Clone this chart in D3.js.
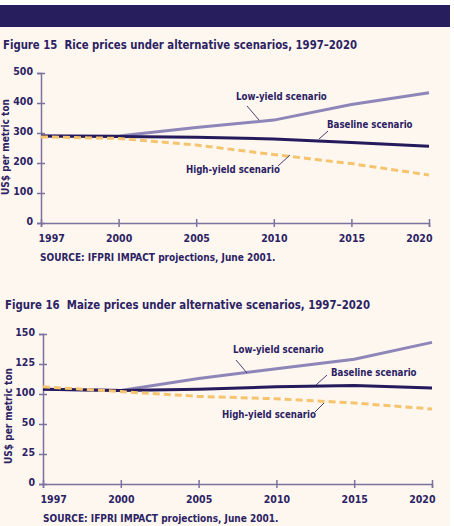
<!DOCTYPE html>
<html>
<head>
<meta charset="utf-8">
<script src="https://cdn.jsdelivr.net/npm/d3@7"></script>
<style>
  html, body { margin: 0; padding: 0; background: #ffffff; }
  svg { display: block; }
  text { font-family: "DejaVu Sans Condensed", "DejaVu Sans", sans-serif; font-weight: bold; fill: #2c2263; }
</style>
</head>
<body>
<svg width="454" height="526"></svg>
<script>
// shared categories
const years = ["1997", "2000", "2005", "2010", "2015", "2020"];
const seriesNames = ["Low-yield scenario", "Baseline scenario", "High-yield scenario"];

// Figure 15 - rice (US$ per metric ton)
const riceTicks = [0, 100, 200, 300, 400, 500];
const riceLow = [290, 290, 318, 343, 395, 434];
const riceBase = [290, 288, 286, 280, 268, 256];
const riceHigh = [287, 282, 260, 228, 198, 160];

// Figure 16 - maize (tick labels as printed: 75 is missing)
const maizeTicks = [0, 25, 50, 100, 125, 150];
const maizeLow = [104, 103, 113, 121, 129, 143];
const maizeBase = [104, 103, 104, 106, 107, 105];
const maizeHigh = [106, 102, 96, 92, 85, 75];

const colors = { low: "#8e86b8", base: "#241a5c", high: "#f6c46e" };

const svg = d3.select("svg");

svg.append("rect").attr("width", 450).attr("height", 526).attr("fill", "#fdf7f0");
svg.append("rect").attr("y", 0).attr("width", 454).attr("height", 5).attr("fill", "#ffffff");
svg.append("rect").attr("y", 5).attr("width", 450).attr("height", 22).attr("fill", "#271e5e");

function drawChart(cfg) {
    const g = svg.append("g");

    g.append("text")
        .attr("x", cfg.titleX).attr("y", cfg.titleY)
        .attr("textLength", cfg.titleW).attr("lengthAdjust", "spacingAndGlyphs")
        .style("font-size", "12.5px")
        .style("white-space", "pre")
        .text(cfg.title);

    const x = d3.scalePoint().domain(years).range(cfg.xRange);
    // polylinear so uneven tick labels sit on evenly spaced ticks
    const y = d3.scaleLinear()
        .domain(cfg.ticks)
        .range(cfg.ticks.map((d, i) => cfg.yRange[0] + (cfg.yRange[1] - cfg.yRange[0]) * i / (cfg.ticks.length - 1)));

    const axisColor = "#7b729f";

    // y axis
    const ya = g.append("g").attr("transform", `translate(${cfg.xRange[0]},0)`)
        .call(d3.axisLeft(y).tickValues(cfg.ticks).tickSize(4).tickPadding(4));
    ya.select(".domain").attr("stroke", axisColor).attr("stroke-width", 1.5);
    ya.selectAll(".tick line").attr("stroke", axisColor).attr("stroke-width", 1.5).attr("x2", 4).attr("x1", -4);
    ya.selectAll(".tick text").style("font-size", "10.5px").attr("fill", "#2c2263")
        .attr("dy", "0.1em");

    // x axis
    const xa = g.append("g").attr("transform", `translate(0,${cfg.yRange[0]})`)
        .call(d3.axisBottom(x).tickSizeOuter(0).tickSize(4).tickPadding(8));
    xa.select(".domain").attr("stroke", axisColor).attr("stroke-width", 1.5);
    xa.selectAll(".tick line").attr("stroke", axisColor).attr("stroke-width", 1.5).attr("y1", -4).attr("y2", 4);
    xa.selectAll(".tick text").style("font-size", "10.5px").attr("fill", "#2c2263")
        .attr("text-anchor", (d, i, n) => i === 0 ? "start" : (i === n.length - 1 ? "end" : "middle"))
        .attr("dx", (d, i, n) => i === 0 ? -3 : (i === n.length - 1 ? 3 : 0));

    g.append("text")
        .attr("transform", `translate(${cfg.yTitleX},${cfg.yTitleY}) rotate(-90)`)
        .attr("text-anchor", "middle")
        .style("font-size", "10px")
        .text("US$ per metric ton");

    const line = d3.line().x((d, i) => x(years[i])).y(d => y(d));

    g.append("path").datum(cfg.low).attr("d", line)
        .attr("fill", "none").attr("stroke", colors.low).attr("stroke-width", 3);
    g.append("path").datum(cfg.base).attr("d", line)
        .attr("fill", "none").attr("stroke", colors.base).attr("stroke-width", 3);
    g.append("path").datum(cfg.high).attr("d", line)
        .attr("fill", "none").attr("stroke", colors.high).attr("stroke-width", 3)
        .attr("stroke-dasharray", "7,4");

    // labels with leader lines
    cfg.labels.forEach((lb, i) => {
        g.append("text").attr("x", lb.x).attr("y", lb.y)
            .style("font-size", "9.6px").text(seriesNames[i]);
        g.append("line").attr("x1", lb.l[0]).attr("y1", lb.l[1]).attr("x2", lb.l[2]).attr("y2", lb.l[3])
            .attr("stroke", "#4a4172").attr("stroke-width", 1);
    });

    const src = g.append("text").attr("x", cfg.srcX).attr("y", cfg.srcY).style("font-size", "10px");
    src.append("tspan").style("font-weight", "900").text("SOURCE:");
    src.append("tspan").text(" IFPRI IMPACT projections, June 2001.");
}

drawChart({
    title: "Figure 15  Rice prices under alternative scenarios, 1997\u20132020",
    titleX: 3, titleY: 49, titleW: 354,
    ticks: riceTicks, xRange: [41, 429], yRange: [223, 73],
    low: riceLow, base: riceBase, high: riceHigh,
    yTitleX: 9, yTitleY: 147,
    labels: [
        { x: 236, y: 100, l: [247, 106, 259, 120] },
        { x: 327, y: 128, l: [328, 131, 319, 139] },
        { x: 186, y: 173, l: [278, 166, 290, 155] }
    ],
    srcX: 40, srcY: 261
});

drawChart({
    title: "Figure 16  Maize prices under alternative scenarios, 1997\u20132020",
    titleX: 5, titleY: 309, titleW: 365,
    ticks: maizeTicks, xRange: [43, 432], yRange: [484, 334],
    low: maizeLow, base: maizeBase, high: maizeHigh,
    yTitleX: 12, yTitleY: 416,
    labels: [
        { x: 233, y: 353, l: [236, 360, 247, 373] },
        { x: 331, y: 376, l: [327, 375, 316, 385] },
        { x: 222, y: 418, l: [315, 412, 324, 403] }
    ],
    srcX: 43, srcY: 522
});
</script>
</body>
</html>
